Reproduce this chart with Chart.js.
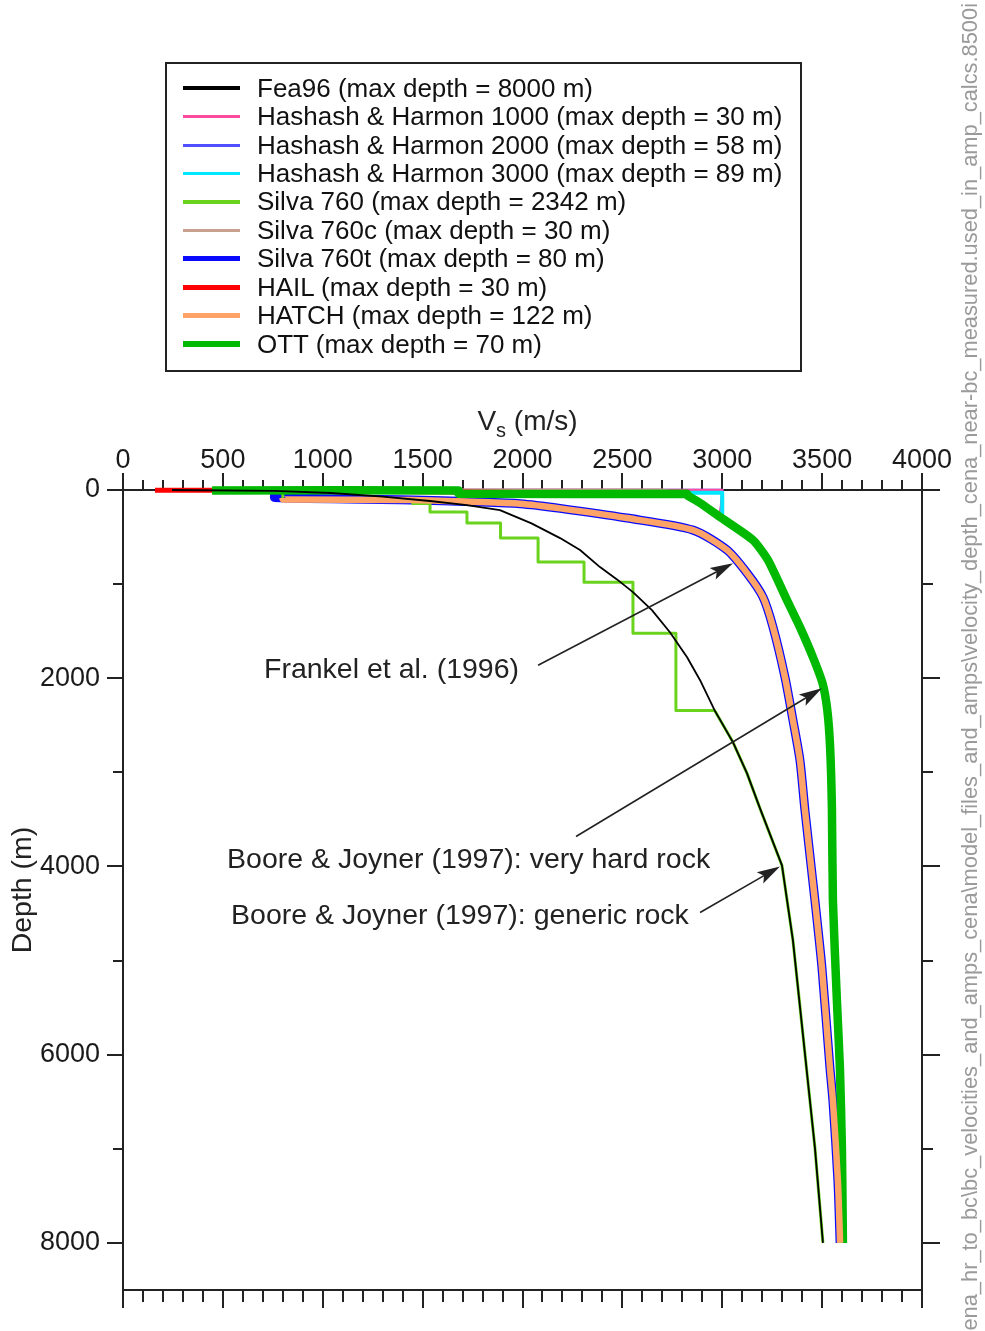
<!DOCTYPE html>
<html>
<head>
<meta charset="utf-8">
<title>Vs - depth profiles</title>
<script src="https://cdn.jsdelivr.net/npm/chart.js@4.4.0/dist/chart.umd.min.js"></script>
<style>
  body { margin: 0; background: #fff; }
  #wrap { position: relative; width: 985px; height: 1331px; overflow: hidden; }
  #wrap canvas { position: absolute; left: 0; top: 0; }
  #legend {
    position: absolute; left: 165px; top: 62px;
    width: 633px; height: 296px; padding-top: 10px;
    border: 2px solid #222;
    font-family: "Liberation Sans", Arial, sans-serif; font-size: 26px; color: #111;
  }
  #legend .row { display: flex; align-items: center; height: 28.44px; white-space: nowrap; }
  #legend .key { flex: none; width: 57px; margin-left: 16px; margin-right: 17px; }
</style>
</head>
<body>
<div id="wrap">
  <canvas id="profiles" width="985" height="1331"></canvas>
  <div id="legend"></div>
</div>
<script>
// series names, in legend order
const seriesNames = [
  'Fea96 (max depth = 8000 m)',
  'Hashash & Harmon 1000 (max depth = 30 m)',
  'Hashash & Harmon 2000 (max depth = 58 m)',
  'Hashash & Harmon 3000 (max depth = 89 m)',
  'Silva 760 (max depth = 2342 m)',
  'Silva 760c (max depth = 30 m)',
  'Silva 760t (max depth = 80 m)',
  'HAIL (max depth = 30 m)',
  'HATCH (max depth = 122 m)',
  'OTT (max depth = 70 m)'
];

// axis tick labels
const vsTicks = [0, 500, 1000, 1500, 2000, 2500, 3000, 3500, 4000];
const depthTicks = [0, 2000, 4000, 6000, 8000];

// deep parts shared by several profiles (Vs in m/s, depth in m)
const baseVs = [1450, 1750, 1988, 2188, 2523, 2854, 3024, 3124, 3204, 3254, 3314, 3354, 3389, 3414, 3464, 3499, 3539, 3554, 3579, 3590];
const baseDepth = [105, 125, 146, 195, 298, 426, 638, 883, 1138, 1457, 1989, 2447, 2872, 3404, 4362, 5074, 6138, 6489, 7340, 8000];

const hardVs = [2823, 2889, 2989, 3154, 3229, 3324, 3389, 3454, 3502, 3526, 3540, 3549, 3554, 3574, 3589, 3599, 3604];
const hardDepth = [53, 138, 287, 532, 745, 1170, 1457, 1777, 2053, 2340, 2734, 3383, 4362, 5426, 6138, 6989, 8000];

const genericVs = [2962, 3054, 3124, 3189, 3299, 3354, 3439, 3464, 3504];
const genericDepth = [2342, 2681, 3011, 3383, 3989, 4787, 6489, 6989, 8000];

// shallow parts of each profile
const fea96Vs = [245, 760, 1040, 1300, 1537, 1722, 1887, 2045, 2188, 2288, 2388, 2473, 2553, 2648, 2738, 2824, 2889];
const fea96Depth = [0, 10, 32, 70, 117, 160, 213, 355, 511, 638, 819, 950, 1085, 1277, 1511, 1777, 2021];

const hh1000Vs = [1680, 3000, 3000];
const hh1000Depth = [0, 0, 30];
const hh2000Vs = [1680, 3000, 3000];
const hh2000Depth = [0, 0, 58];
const hh3000Vs = [1680, 3000, 3000];
const hh3000Depth = [30, 30, 250];

const silva760Vs = [800, 800, 1450, 1450, 1537, 1537, 1722, 1722, 1890, 1890, 2078, 2078, 2308, 2308, 2553, 2553, 2768, 2768];
const silva760Depth = [0, 100, 100, 144, 144, 234, 234, 351, 351, 511, 511, 766, 766, 979, 979, 1521, 1521, 2342];
const silva760cVs = [1680, 2700];
const silva760cDepth = [0, 0];
const silva760tVs = [760, 760];
const silva760tDepth = [40, 80];

const hailVs = [160, 446, 1680, 2823];
const hailDepth = [3, 3, 20, 40];
const hatchVs = [800, 800];
const hatchDepth = [85, 100];
const ottVs = [446, 1680, 1680, 2823];
const ottDepth = [5, 5, 40, 40];

// full profiles: shallow part followed by the deep curve it joins
const profiles = [
  [fea96Vs.concat(genericVs), fea96Depth.concat(genericDepth)],
  [hh1000Vs.concat(hardVs.slice(2)), hh1000Depth.concat(hardDepth.slice(2))],
  [hh2000Vs.concat(hardVs.slice(2)), hh2000Depth.concat(hardDepth.slice(2))],
  [hh3000Vs.concat(hardVs.slice(2)), hh3000Depth.concat(hardDepth.slice(2))],
  [silva760Vs.concat(genericVs), silva760Depth.concat(genericDepth)],
  [silva760cVs.concat(hardVs), silva760cDepth.concat(hardDepth)],
  [silva760tVs.concat(baseVs), silva760tDepth.concat(baseDepth)],
  [hailVs.concat(hardVs), hailDepth.concat(hardDepth)],
  [hatchVs.concat(baseVs), hatchDepth.concat(baseDepth)],
  [ottVs.concat(hardVs), ottDepth.concat(hardDepth)]
];

// line styles: width on the plot, width in the key, stacking (0 = on top), curve smoothing
const seriesStyle = [
  { color: '#000000', width: 1.8, key: 4.5, order: 0, tension: 0 },
  { color: '#ff4aa0', width: 2.5, key: 3, order: 7, tension: 0 },
  { color: '#5050ff', width: 2.5, key: 3, order: 9, tension: 0 },
  { color: '#00e8ff', width: 4, key: 3.5, order: 4, tension: 0 },
  { color: '#6ad31e', width: 3, key: 3.5, order: 3, tension: 0 },
  { color: '#c9a08e', width: 3, key: 3.5, order: 6, tension: 0 },
  { color: '#0a0aff', width: 9, key: 5, order: 8, tension: 0.25 },
  { color: '#ff0000', width: 5, key: 4.5, order: 5, tension: 0 },
  { color: '#ffa466', width: 6.5, key: 5, order: 1, tension: 0.25 },
  { color: '#00b900', width: 8.5, key: 6.5, order: 2, tension: 0.2 }
];

// labels with arrows, positioned in data units [Vs, depth]
const notes = [
  { text: 'Frankel et al. (1996)', at: [706, 1915], from: [2078, 1862], to: [3054, 777] },
  { text: 'Boore & Joyner (1997): very hard rock', at: [521, 3936], from: [2268, 3681], to: [3499, 2106] },
  { text: 'Boore & Joyner (1997): generic rock', at: [541, 4532], from: [2889, 4489], to: [3289, 4000] }
];

const filePath = 'cena_hr_to_bc\\bc_velocities_and_amps_cena\\model_files_and_amps\\velocity_depth_cena_near-bc_measured.used_in_amp_calcs.8500i';

const FONT = '"Liberation Sans", Arial, sans-serif';
Chart.defaults.font.family = FONT;

// frame and tick marks, under the curves
const framePlugin = {
  id: 'frame',
  beforeDatasetsDraw(chart) {
    const { ctx, chartArea: a, scales: { x, y } } = chart;
    ctx.save();
    ctx.strokeStyle = '#222';
    ctx.lineWidth = 2;
    ctx.strokeRect(a.left, a.top, a.right - a.left, a.bottom - a.top);
    ctx.beginPath();
    for (let v = 0; v <= 4000; v += 100) {
      const px = Math.round(x.getPixelForValue(v));
      const major = v % 500 === 0;
      ctx.moveTo(px, a.top);
      ctx.lineTo(px, a.top - (major ? 17 : 10));
      ctx.moveTo(px, a.bottom);
      ctx.lineTo(px, a.bottom + (major ? 18 : 12));
    }
    for (let d = 0; d <= 8000; d += 1000) {
      const py = Math.round(y.getPixelForValue(d));
      const major = d % 2000 === 0;
      ctx.moveTo(a.left, py);
      ctx.lineTo(a.left - (major ? 16 : 10), py);
      ctx.moveTo(a.right, py);
      ctx.lineTo(a.right + (major ? 18 : 11), py);
    }
    ctx.stroke();
    ctx.restore();
  }
};

// annotation labels and arrows
const notesPlugin = {
  id: 'notes',
  afterDatasetsDraw(chart) {
    const { ctx, scales: { x, y } } = chart;
    ctx.save();
    ctx.fillStyle = '#222';
    ctx.strokeStyle = '#222';
    ctx.lineWidth = 1.6;
    ctx.font = '28.5px ' + FONT;
    ctx.textBaseline = 'middle';
    ctx.textAlign = 'left';
    notes.forEach(n => {
      ctx.fillText(n.text, x.getPixelForValue(n.at[0]), y.getPixelForValue(n.at[1]));
      const x0 = x.getPixelForValue(n.from[0]), y0 = y.getPixelForValue(n.from[1]);
      const x1 = x.getPixelForValue(n.to[0]), y1 = y.getPixelForValue(n.to[1]);
      const ang = Math.atan2(y1 - y0, x1 - x0);
      const c = Math.cos(ang), s = Math.sin(ang);
      const len = 23, half = 6.5;
      ctx.beginPath();
      ctx.moveTo(x0, y0);
      ctx.lineTo(x1 - c * len * 0.8, y1 - s * len * 0.8);
      ctx.stroke();
      ctx.beginPath();
      ctx.moveTo(x1, y1);
      ctx.lineTo(x1 - c * len - s * half, y1 - s * len + c * half);
      ctx.lineTo(x1 - c * len * 0.8, y1 - s * len * 0.8);
      ctx.lineTo(x1 - c * len + s * half, y1 - s * len - c * half);
      ctx.closePath();
      ctx.fill();
    });
    ctx.restore();
  }
};

// Vs axis title with subscript, and the file path along the right edge
const extrasPlugin = {
  id: 'extras',
  afterDraw(chart) {
    const { ctx, chartArea: a } = chart;
    ctx.save();
    ctx.fillStyle = '#222';
    ctx.textBaseline = 'alphabetic';
    ctx.textAlign = 'left';
    const big = '28px ' + FONT, small = '20px ' + FONT;
    ctx.font = big;
    const wV = ctx.measureText('V').width;
    const wRest = ctx.measureText(' (m/s)').width;
    ctx.font = small;
    const wS = ctx.measureText('s').width;
    let tx = (a.left + a.right) / 2 + 5 - (wV + wS + wRest) / 2;
    const base = a.top - 60;
    ctx.font = big;
    ctx.fillText('V', tx, base);
    tx += wV;
    ctx.font = small;
    ctx.fillText('s', tx, base + 7);
    tx += wS;
    ctx.font = big;
    ctx.fillText(' (m/s)', tx, base);

    // file path, reading bottom to top
    ctx.font = '20px ' + FONT;
    const shown = ctx.measureText(filePath.slice(1)).width;
    const size = 20 * (chart.height - 3) / shown;
    ctx.font = size + 'px ' + FONT;
    ctx.fillStyle = '#9a9a9a';
    ctx.translate(977, 3);
    ctx.rotate(-Math.PI / 2);
    ctx.textAlign = 'right';
    ctx.fillText(filePath, 0, 0);
    ctx.restore();
  }
};

new Chart(document.getElementById('profiles'), {
  type: 'scatter',
  data: {
    datasets: profiles.map((p, i) => ({
      label: seriesNames[i],
      data: p[0].map((v, k) => ({ x: v, y: p[1][k] })),
      showLine: true,
      borderColor: seriesStyle[i].color,
      backgroundColor: seriesStyle[i].color,
      borderWidth: seriesStyle[i].width,
      borderJoinStyle: 'round',
      tension: seriesStyle[i].tension,
      pointRadius: 0,
      fill: false,
      clip: false,
      order: seriesStyle[i].order
    }))
  },
  options: {
    responsive: false,
    animation: false,
    events: [],
    layout: { padding: { top: 400, left: 0, right: 63, bottom: 41 } },
    plugins: { legend: { display: false }, tooltip: { enabled: false } },
    scales: {
      x: {
        type: 'linear',
        position: 'top',
        min: 0,
        max: 4000,
        afterBuildTicks: s => { s.ticks = vsTicks.map(v => ({ value: v })); },
        afterFit: s => { s.height = 90; },
        grid: { display: false, drawTicks: false },
        border: { display: false },
        ticks: { color: '#1a1a1a', font: { size: 27 }, padding: 13, maxRotation: 0, autoSkip: false, callback: v => String(v) }
      },
      y: {
        type: 'linear',
        reverse: true,
        min: 0,
        max: 8500,
        afterBuildTicks: s => { s.ticks = depthTicks.map(v => ({ value: v })); },
        afterFit: s => { s.width = 123; },
        grid: { display: false, drawTicks: false },
        border: { display: false },
        ticks: { color: '#1a1a1a', font: { size: 27 }, padding: 23, autoSkip: false, callback: v => String(v) },
        title: { display: true, text: 'Depth (m)', color: '#222', font: { size: 28.5 }, padding: { top: 6, bottom: 0 } }
      }
    }
  },
  plugins: [framePlugin, notesPlugin, extrasPlugin]
});

// legend box
const legendBox = document.getElementById('legend');
seriesNames.forEach((name, i) => {
  const row = document.createElement('div');
  row.className = 'row';
  const key = document.createElement('span');
  key.className = 'key';
  key.style.height = seriesStyle[i].key + 'px';
  key.style.background = seriesStyle[i].color;
  const label = document.createElement('span');
  label.textContent = name;
  row.append(key, label);
  legendBox.append(row);
});
</script>
</body>
</html>
